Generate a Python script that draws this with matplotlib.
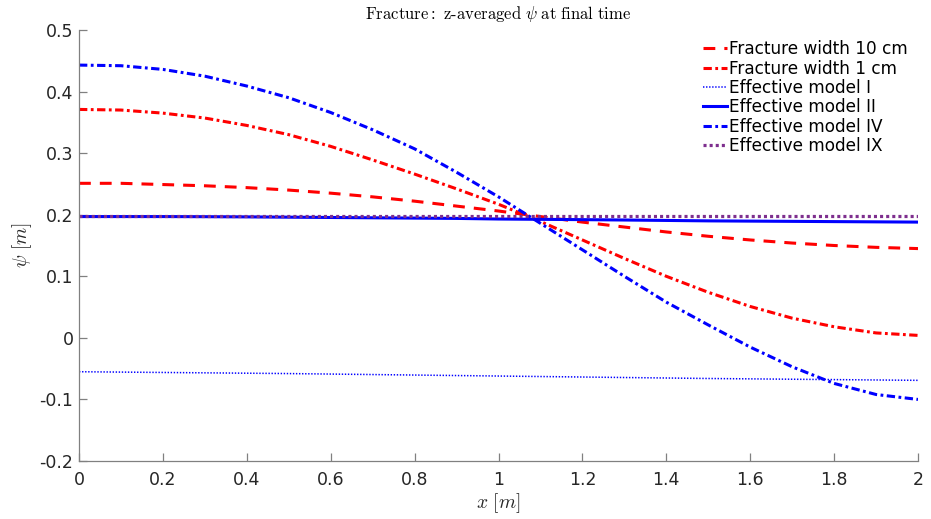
import matplotlib
matplotlib.use('Agg')
import matplotlib.pyplot as plt
import numpy as np

# sample points along the fracture
x = [0.0, 0.1, 0.2, 0.3, 0.4, 0.5, 0.6, 0.7, 0.8, 0.9, 1.0,
     1.1, 1.2, 1.3, 1.4, 1.5, 1.6, 1.7, 1.8, 1.9, 2.0]

# z-averaged psi for the two resolved fractures
psi_w10 = [0.251, 0.251, 0.249, 0.247, 0.244, 0.240, 0.235, 0.229, 0.222, 0.214, 0.206,
           0.197, 0.188, 0.180, 0.172, 0.165, 0.159, 0.154, 0.150, 0.147, 0.145]
psi_w1 = [0.371, 0.370, 0.365, 0.357, 0.345, 0.330, 0.311, 0.289, 0.266, 0.242, 0.217,
          0.189, 0.159, 0.129, 0.100, 0.074, 0.051, 0.032, 0.018, 0.008, 0.004]

# effective models
psi_I = [-0.055, -0.0556, -0.0562, -0.0568, -0.0574, -0.058, -0.0588, -0.0596, -0.0604, -0.0612, -0.062,
         -0.0628, -0.0636, -0.0644, -0.0652, -0.066, -0.0666, -0.0672, -0.0678, -0.0684, -0.069]
psi_II = [0.197, 0.197, 0.197, 0.1968, 0.1965, 0.196, 0.1955, 0.195, 0.1945, 0.194, 0.193,
          0.1925, 0.192, 0.1914, 0.1907, 0.190, 0.1896, 0.1892, 0.1888, 0.1884, 0.188]
psi_IV = [0.443, 0.442, 0.436, 0.425, 0.409, 0.390, 0.366, 0.338, 0.307, 0.269, 0.229,
          0.186, 0.143, 0.100, 0.058, 0.021, -0.015, -0.047, -0.074, -0.092, -0.100]
psi_IX = [0.198, 0.198, 0.198, 0.198, 0.198, 0.198, 0.198, 0.198, 0.198, 0.198, 0.198,
          0.198, 0.198, 0.198, 0.198, 0.198, 0.198, 0.198, 0.198, 0.198, 0.198]

plt.rcParams['mathtext.fontset'] = 'cm'
plt.rcParams['lines.scale_dashes'] = False
plt.rcParams['font.family'] = 'DejaVu Sans'

fig = plt.figure(figsize=(9.31, 5.19), dpi=100)
ax = fig.add_axes([79 / 931, 1 - 461 / 519, (918 - 79) / 931, (461 - 30) / 519])

dashdot = (6, 2.5, 2, 2.5)
ax.plot(x, psi_w10, color='red', lw=2.2, dashes=(8.5, 6.5), dash_capstyle='butt',
        label='Fracture width 10 cm')
ax.plot(x, psi_w1, color='red', lw=2.2, dashes=dashdot, dash_capstyle='butt',
        label='Fracture width 1 cm')
ax.plot(x, psi_I, color='blue', lw=1.1, dashes=(1, 1.2), dash_capstyle='butt',
        label='Effective model I')
ax.plot(x, psi_II, color='blue', lw=2.2, linestyle='-',
        label='Effective model II')
ax.plot(x, psi_IV, color='blue', lw=2.2, dashes=dashdot, dash_capstyle='butt',
        label='Effective model IV')
ax.plot(x, psi_IX, color='#7E2F8E', lw=2.3, dashes=(2.2, 2.2), dash_capstyle='butt',
        label='Effective model IX')

ax.set_xlim(0, 2)
ax.set_ylim(-0.2, 0.5)
ax.set_xticks(np.arange(0, 2.01, 0.2))
ax.set_xticklabels(['0', '0.2', '0.4', '0.6', '0.8', '1', '1.2', '1.4', '1.6', '1.8', '2'])
ax.set_yticks(np.arange(-0.2, 0.51, 0.1))
ax.set_yticklabels(['-0.2', '-0.1', '0', '0.1', '0.2', '0.3', '0.4', '0.5'])

for side in ['top', 'right']:
    ax.spines[side].set_visible(False)
for side in ['left', 'bottom']:
    ax.spines[side].set_color('#808080')
    ax.spines[side].set_linewidth(0.9)
ax.tick_params(direction='in', length=6, width=0.9, color='#808080',
               labelcolor='#262626', labelsize=12.5)
ax.tick_params(axis='x', pad=7.5)
ax.tick_params(axis='y', pad=4)

ax.set_title(r'$\mathrm{Fracture{:}\ z\text{-}averaged}\ \psi\ \mathrm{at\ final\ time}$',
             fontsize=12, pad=8)
ax.set_xlabel(r'$x\ [m]$', fontsize=14, color='#262626', labelpad=1)
ax.set_ylabel(r'$\psi\ [m]$', fontsize=14, color='#262626', labelpad=4)

ax.legend(loc='upper right', bbox_to_anchor=(1.0, 1.0), frameon=False, fontsize=12.2,
          handlelength=1.4, handletextpad=0.15, labelspacing=0.08, borderaxespad=0.2)

fig.savefig('out.png', dpi=100)
